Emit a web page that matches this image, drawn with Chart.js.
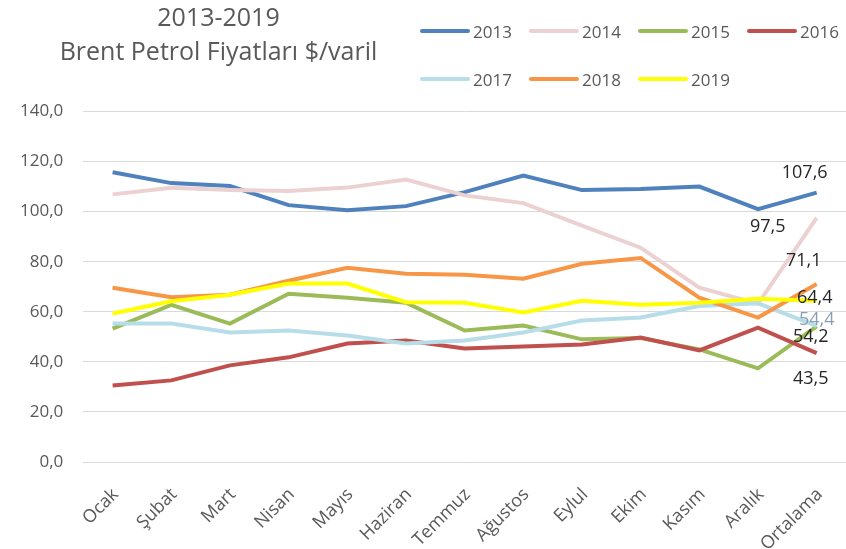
<!DOCTYPE html>
<html>
<head>
<meta charset="utf-8">
<script src="https://cdn.jsdelivr.net/npm/chart.js@4/dist/chart.umd.min.js"></script>
<style>
  body { margin: 0; background: #fff; }
  #wrap { position: relative; width: 846px; height: 549px; }
  #legend { position: absolute; left: 420px; top: 19px; display: grid;
    grid-template-columns: repeat(4, 109px); row-gap: 24px; }
  #legend .item { display: flex; align-items: center; height: 24px;
    font: 17px "Open Sans", sans-serif; color: #595959; }
  #legend .box { width: 50px; height: 4px; border-radius: 2px; margin-right: 3px; }
</style>
</head>
<body>
<div id="wrap">
  <canvas id="chart" width="846" height="549"></canvas>
  <div id="legend"></div>
</div>
<script>
var aylar = ['Ocak', 'Şubat', 'Mart', 'Nisan', 'Mayıs', 'Haziran', 'Temmuz', 'Ağustos', 'Eylul', 'Ekim', 'Kasım', 'Aralık', 'Ortalama'];
var yillar = ['2013', '2014', '2015', '2016', '2017', '2018', '2019'];

var fiyat2013 = [115.7, 111.4, 110.2, 102.6, 100.6, 102.2, 107.8, 114.4, 108.6, 109.0, 110.0, 101.0, 107.6];
var fiyat2014 = [106.9, 109.5, 108.6, 108.2, 109.6, 112.8, 106.5, 103.4, 94.4, 85.6, 69.6, 63.2, 97.5];
var fiyat2015 = [53.3, 62.8, 55.3, 67.2, 65.6, 63.6, 52.5, 54.5, 49.0, 49.5, 45.0, 37.4, 54.2];
var fiyat2016 = [30.6, 32.6, 38.6, 41.8, 47.3, 48.5, 45.3, 46.1, 46.9, 49.7, 44.6, 53.7, 43.5];
var fiyat2017 = [55.3, 55.3, 51.7, 52.5, 50.5, 47.3, 48.5, 51.7, 56.5, 57.7, 62.3, 63.4, 54.4];
var fiyat2018 = [69.6, 65.8, 66.8, 72.4, 77.6, 75.2, 74.8, 73.2, 79.2, 81.5, 65.6, 57.7, 71.1];
var fiyat2019 = [59.3, 64.2, 66.8, 71.3, 71.3, 63.8, 63.6, 59.7, 64.4, 62.8, 63.6, 65.2, 64.4];

var renkler = ['#4F81BD', '#EBD1D1', '#9BBB59', '#C0504D', '#B7DDE8', '#F79646', '#FFFF00'];
var seriler = [fiyat2013, fiyat2014, fiyat2015, fiyat2016, fiyat2017, fiyat2018, fiyat2019];

// Ortalama etiketlerinin noktaya gore kaymasi
var etiketKayma = [
  {dx: -12, dy: -20},
  {dx: -49, dy: 9},
  {dx: -6, dy: 11},
  {dx: -6, dy: 26},
  {dx: 0, dy: -6, color: '#8A9FB5'},
  {dx: -13, dy: -23},
  {dx: -2, dy: -3}
];

function virgul(v){
  return v.toFixed(1).replace('.', ',');
}

var datasets = [];
for(var i = 0; i < seriler.length; i++){
  datasets.push({
    label: yillar[i],
    data: seriler[i],
    borderColor: renkler[i],
    backgroundColor: renkler[i],
    order: seriler.length - i
  });
}

// title sol yariya
var baslikSol = {
  id: 'baslikSol',
  afterLayout: function(chart){
    chart.titleBlock.left = 0;
    chart.titleBlock.right = 437;
  }
};

// son nokta etiketleri
var sonEtiket = {
  id: 'sonEtiket',
  afterDatasetsDraw: function(chart){
    var ctx = chart.ctx;
    ctx.save();
    ctx.font = '18px "Open Sans"';
    ctx.textAlign = 'center';
    ctx.textBaseline = 'middle';
    chart.data.datasets.forEach(function(ds, i){
      var meta = chart.getDatasetMeta(i);
      var pt = meta.data[meta.data.length - 1];
      var k = etiketKayma[i];
      ctx.fillStyle = k.color || '#262626';
      ctx.fillText(virgul(ds.data[ds.data.length - 1]), pt.x + k.dx, pt.y + k.dy);
    });
    ctx.restore();
  }
};

// html legend
var htmlLegend = {
  id: 'htmlLegend',
  afterUpdate: function(chart){
    var box = document.getElementById('legend');
    box.innerHTML = '';
    var items = chart.options.plugins.legend.labels.generateLabels(chart);
    items.sort(function(a, b){ return a.datasetIndex - b.datasetIndex; });
    items.forEach(function(item){
      var div = document.createElement('div');
      div.className = 'item';
      var sw = document.createElement('span');
      sw.className = 'box';
      sw.style.background = item.strokeStyle;
      var txt = document.createElement('span');
      txt.textContent = item.text;
      div.appendChild(sw);
      div.appendChild(txt);
      box.appendChild(div);
    });
  }
};

Chart.defaults.font.family = '"Open Sans", sans-serif';

var ctx = document.getElementById('chart').getContext('2d');
var chart = new Chart(ctx, {
  type: 'line',
  data: { labels: aylar, datasets: datasets },
  options: {
    responsive: false,
    animation: false,
    layout: { padding: { left: 0, right: 0, bottom: 0 } },
    elements: {
      line: { tension: 0, borderWidth: 4 },
      point: { radius: 0, hoverRadius: 0 }
    },
    plugins: {
      legend: { display: false },
      tooltip: { enabled: false },
      title: {
        display: true,
        text: ['2013-2019', 'Brent Petrol Fiyatları $/varil'],
        color: '#595959',
        font: { size: 25, weight: 'normal', lineHeight: 1.35 },
        padding: { top: 2, bottom: 42 }
      }
    },
    scales: {
      x: {
        offset: true,
        grid: { display: false },
        border: { display: false },
        ticks: { color: '#595959', font: { size: 18 }, minRotation: 45, maxRotation: 45, padding: 14, labelOffset: 3 },
        afterFit: function(scale){
          scale.paddingLeft = 0;
          scale.paddingRight = 0;
          scale.height = 87;
        }
      },
      y: {
        min: 0,
        max: 140,
        grid: { color: '#D9D9D9', drawTicks: false },
        border: { display: false },
        ticks: {
          stepSize: 20,
          padding: 20,
          color: '#595959',
          font: { size: 17 },
          callback: function(v){ return virgul(v); }
        }
      }
    }
  },
  plugins: [baslikSol, sonEtiket, htmlLegend]
});
</script>
</body>
</html>
